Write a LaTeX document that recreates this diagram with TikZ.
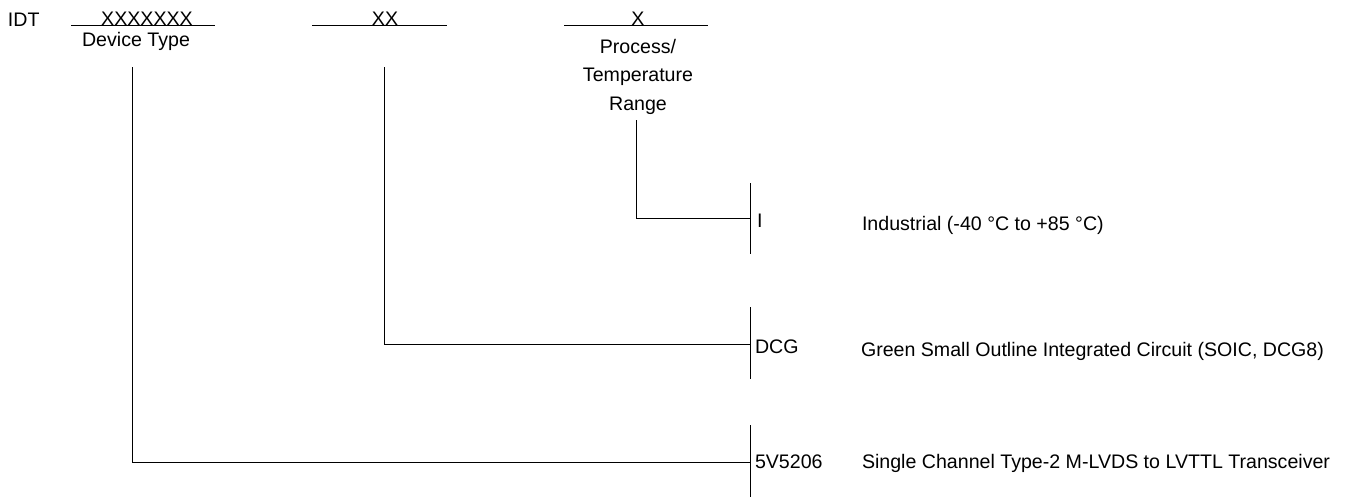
\documentclass[tikz,border=0pt]{standalone}
\usepackage{fontspec}
\setmainfont{Liberation Sans}
\begin{document}
\begin{tikzpicture}[x=1pt,y=-1pt,
  lbl/.style={inner sep=0pt,outer sep=0pt,font=\fontsize{19.6}{28.5}\selectfont},
  wire/.style={line width=0.9pt,black},
  ]
\useasboundingbox (0,0) rectangle (1354,498);
% top row
\node[lbl,anchor=base west] (idt) at (8,26) {IDT};
\node[lbl,anchor=base] (devx) at (147,25.5) {XXXXXXX};
\node[lbl,anchor=base] (devlbl) at (136,46) {Device Type};
\node[lbl,anchor=base] (pkgx) at (385,25.5) {XX};
\node[lbl,anchor=base] (tempx) at (638,25.5) {X};
\node[lbl,anchor=base,align=center] (templbl) at (638,110) {Process/\\Temperature\\Range};
\draw[wire] (71,25) -- (215,25);
\draw[wire] (312,25) -- (447,25);
\draw[wire] (564,25) -- (708,25);
% start points
\coordinate (devs) at (132,67);
\coordinate (pkgs) at (384,67);
\coordinate (temps) at (636,120);
% bars
\coordinate (barI) at (750,218.5);
\coordinate (barD) at (750,344.3);
\coordinate (barS) at (750,462);
\draw[wire] (750,183) -- (750,254);
\draw[wire] (750,307) -- (750,379);
\draw[wire] (750,425) -- (750,497);
% connectors
\draw[wire] (temps) |- (barI);
\draw[wire] (pkgs) |- (barD);
\draw[wire] (devs) |- (barS);
% codes
\node[lbl,anchor=base west] (codeI) at (757,227) {I};
\node[lbl,anchor=base west] (codeD) at (755,353) {DCG};
\node[lbl,anchor=base west] (codeS) at (755,468) {5V5206};
% descriptions
\node[lbl,anchor=base west] (descI) at (862,230) {Industrial (-40 °C to +85 °C)};
\node[lbl,anchor=base west] (descD) at (861,356.5) {Green Small Outline Integrated Circuit (SOIC, DCG8)};
\node[lbl,anchor=base west] (descS) at (862,468.5) {Single Channel Type-2 M-LVDS to LVTTL Transceiver};
\end{tikzpicture}
\end{document}
